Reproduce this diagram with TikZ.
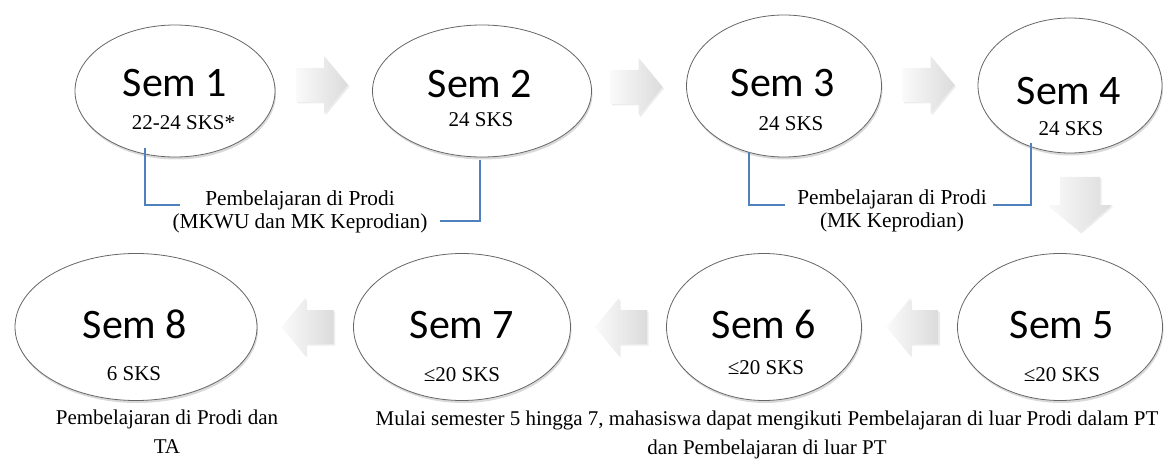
\documentclass[tikz,border=0pt]{standalone}
\usepackage{fontspec}
\setmainfont{Liberation Serif}
\newfontfamily\semfont{Carlito}
\usetikzlibrary{shapes.geometric,shadows}
\definecolor{blueline}{HTML}{4F81BD}
\begin{document}
\begin{tikzpicture}[x=1pt,y=-1pt,
  sem/.style={ellipse, draw=black!60, line width=0.8pt, fill=white, inner sep=0pt,
    drop shadow={opacity=0.3, shadow xshift=1pt, shadow yshift=-2.5pt}},
  semlbl/.style={font=\semfont\fontsize{42}{48}\selectfont, anchor=base, inner sep=0pt},
  skslbl/.style={font=\fontsize{21}{24}\selectfont, anchor=base, inner sep=0pt},
  note/.style={font=\fontsize{21.3}{23}\selectfont, align=center, inner sep=0pt},
  bnote/.style={font=\fontsize{21}{29}\selectfont, align=center, inner sep=0pt},
  bracket/.style={draw=blueline, line width=1.3pt},
  arrowfill/.style={left color=white!98!black, right color=white!86!black,
    drop shadow={opacity=0.15, shadow xshift=1.5pt, shadow yshift=-1.5pt}},
  harrow/.pic={\path[arrowfill] (-26,-17) -- (2,-17) -- (2,-29) -- (26,0) -- (2,29) -- (2,17) -- (-26,17) -- cycle;},
  varrow/.pic={\path[arrowfill] (-27.5,-20) -- (0.5,-20) -- (0.5,-32) -- (27.5,0) -- (0.5,32) -- (0.5,20) -- (-27.5,20) -- cycle;}
]
\useasboundingbox (0,0) rectangle (1173,468);

% ellipses
\node[sem, minimum width=200pt, minimum height=132pt] (s1) at (175,91) {};
\node[sem, minimum width=219pt, minimum height=132pt] (s2) at (482,91) {};
\node[sem, minimum width=195pt, minimum height=142pt] (s3) at (784,86) {};
\node[sem, minimum width=184pt, minimum height=135pt] (s4) at (1070,85.5) {};
\node[sem, minimum width=205pt, minimum height=147pt] (s5) at (1060,327) {};
\node[sem, minimum width=195pt, minimum height=147pt] (s6) at (764,327) {};
\node[sem, minimum width=217pt, minimum height=147pt] (s7) at (462,327) {};
\node[sem, minimum width=242pt, minimum height=147pt] (s8) at (136,327) {};

% texts
\node[semlbl] (t1) at (175,97) {Sem 1};
\node[skslbl] (k1) at (183.5,130) {22-24 SKS*};
\node[semlbl] (t2) at (480,98) {Sem 2};
\node[skslbl] (k2) at (481,127) {24 SKS};
\node[semlbl] (t3) at (783,97) {Sem 3};
\node[skslbl] (k3) at (791,131) {24 SKS};
\node[semlbl] (t4) at (1069,105) {Sem 4};
\node[skslbl] (k4) at (1071,136) {24 SKS};
\node[semlbl] (t5) at (1062,338) {Sem 5};
\node[skslbl] (k5) at (1062,381) {≤20 SKS};
\node[semlbl] (t6) at (764,338) {Sem 6};
\node[skslbl] (k6) at (766,374) {≤20 SKS};
\node[semlbl] (t7) at (462,338) {Sem 7};
\node[skslbl] (k7) at (462,381) {≤20 SKS};
\node[semlbl] (t8) at (135,338) {Sem 8};
\node[skslbl] (k8) at (134,380) {6 SKS};

% block arrows
\pic at (322,85) {harrow};
\pic at (636.5,87) {harrow};
\pic at (928.5,85) {harrow};
\pic[rotate=-90] at (1080,204.5) {varrow};
\pic[rotate=180] at (912.5,327) {harrow};
\pic[rotate=180] at (621,327) {harrow};
\pic[rotate=180] at (307.5,327) {harrow};

% notes
\node[note] (n1) at (300,211.5) {Pembelajaran di Prodi\\(MKWU dan MK Keprodian)};
\node[note] (n2) at (892,210.5) {Pembelajaran di Prodi\\(MK Keprodian)};
\node[bnote] (n3) at (167,432) {Pembelajaran di Prodi dan\\TA};
\node[bnote] (n4) at (767,434.5) {Mulai semester 5 hingga 7, mahasiswa dapat mengikuti Pembelajaran di luar Prodi dalam PT\\dan Pembelajaran di luar PT};

% brackets
\coordinate (b1a) at (145,148);
\coordinate (b1b) at (180,205);
\coordinate (b2a) at (480,160);
\coordinate (b2b) at (440,221);
\coordinate (b3a) at (749,152);
\coordinate (b3b) at (785,205);
\coordinate (b4a) at (1031,143);
\coordinate (b4b) at (993,205);
\draw[bracket] (b1a) |- (b1b);
\draw[bracket] (b2a) |- (b2b);
\draw[bracket] (b3a) |- (b3b);
\draw[bracket] (b4a) |- (b4b);
\end{tikzpicture}
\end{document}
